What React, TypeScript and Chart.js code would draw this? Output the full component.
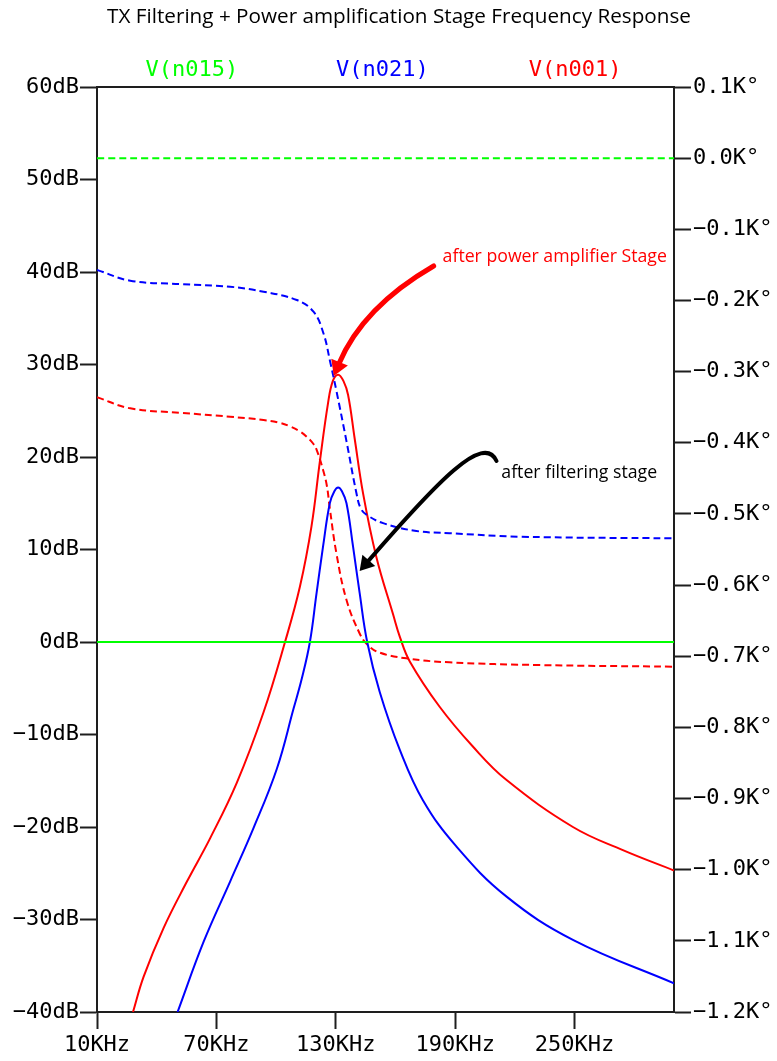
import React, { useEffect, useRef } from "react";
import { Chart, registerables } from "chart.js";

Chart.register(...registerables);

// ---------- text ----------
const chartTitle = "TX Filtering + Power amplification Stage Frequency Response";
const seriesNames = ["V(n015)", "V(n021)", "V(n001)"];
const seriesColors = ["#00ff00", "#0000ff", "#ff0000"];
const noteTexts = ["after power amplifier Stage", "after filtering stage"];
const noteColors = ["#ff0000", "#000000"];

// ---------- axes ----------
const freqMin = 10;
const freqMax = 300;
const freqTicks = [10, 70, 130, 190, 250];
const dbMin = -40;
const dbMax = 60;
const dbStep = 10;
const phaseMin = -1200;
const phaseMax = 100;
const phaseStep = 100;

// ---------- V(n015): magnitude (dB) & phase (deg) ----------
const freqN015 = [10, 300];
const magN015 = [0, 0];
const phaseN015 = [0, 0];

// ---------- V(n021): magnitude (dB) ----------
const freqN021Mag = [50.5, 63.6, 76.9, 88.7, 100.4, 108.8, 113.0, 117.0, 120.3, 123.6, 127.0, 129.3, 131.2, 133.1, 135.4, 138.7, 142.0, 145.8, 152.1, 162.1, 173.8, 190.6, 215.7, 249.2, 300];
const magN021 = [-40, -32.4, -25.9, -20.1, -13.7, -7.2, -3.9, 0.0, 5.2, 10.3, 15.0, 16.3, 16.7, 16.3, 15.0, 10.3, 5.3, 0.0, -5.4, -11.6, -17.1, -22.1, -27.5, -32.2, -36.9];

// ---------- V(n021): phase (deg) ----------
const freqN021Phase = [10, 26.7, 51.8, 76.9, 93.7, 110.4, 118.8, 123.8, 127.1, 130.4, 135.4, 140.4, 142.5, 145.4, 153.8, 170.5, 187.2, 222.4, 300];
const phaseN021 = [-157, -172.2, -176.9, -180.7, -187.7, -199.4, -215.8, -246, -285, -328, -398, -471, -492, -501, -513, -524, -527, -532, -534.3];

// ---------- V(n001): magnitude (dB) ----------
const freqN001Mag = [28.1, 33.4, 43.5, 55.2, 66.9, 80.3, 93.7, 104.5, 112.0, 117.8, 122.0, 126.1, 128.5, 131.2, 133.9, 136.2, 139.5, 143.7, 150.4, 158.8, 162.3, 167.2, 182.2, 198.9, 215.7, 249.2, 274.3, 300];
const magN001 = [-40, -36.2, -30.9, -25.9, -21.2, -15.2, -7.6, 0.0, 6.0, 12.5, 19.5, 25.8, 28.2, 28.9, 28.2, 26.7, 22.0, 16.1, 9.2, 3.0, 0.5, -2.1, -7.0, -11.3, -14.9, -20.0, -22.5, -24.7];

// ---------- V(n001): phase (deg) ----------
const freqN001Phase = [10, 26.7, 51.8, 76.9, 93.7, 102, 107, 112, 115.4, 118.6, 120.4, 123.6, 125.5, 127.0, 130.3, 135.4, 142.0, 146, 152.1, 165.5, 187.2, 232.4, 300];
const phaseN001 = [-336, -351.6, -357.8, -363.4, -368, -372, -377, -384, -391.5, -401, -410, -438, -460, -492, -555, -621, -668, -684, -695, -703, -708.6, -712.4, -714.7];

// ---------- annotations, in data units (KHz, dB) ----------
const noteAnchors = [
  [183.7, 41.6],
  [213.2, 18.3],
];
// red arrow: start, control, tip
const redArrowPath = [
  [179.2, 40.65],
  [143.5, 36.2],
  [129.0, 28.76],
];
// black arrow: start, control1, control2, tip
const blackArrowPath = [
  [210.8, 19.57],
  [204.3, 22.6],
  [181.7, 17.51],
  [142.0, 7.68],
];

const AXIS_COLOR = "#1e1e1e";
const MONO = "'DejaVu Sans Mono', monospace";
const SANS = "'Open Sans', sans-serif";

const minus = (s: string) => s.replace("-", "\u2212");

const pts = (xs: number[], ys: number[]) => xs.map((x, i) => ({ x, y: ys[i] }));

function line(label: string, xs: number[], ys: number[], color: string, axis: string, dashed: boolean) {
  return {
    label,
    data: pts(xs, ys),
    borderColor: color,
    backgroundColor: color,
    borderWidth: 2,
    borderDash: dashed ? [7, 4] : [],
    pointRadius: 0,
    pointHoverRadius: 0,
    fill: false,
    tension: 0.4,
    yAxisID: axis,
  };
}

function drawArrow(
  ctx: CanvasRenderingContext2D,
  p: { x: number; y: number }[],
  lw: number,
  headLen: number,
  headW: number,
  color: string
) {
  const tip = p[p.length - 1];
  const prev = p[p.length - 2];
  let dx = tip.x - prev.x;
  let dy = tip.y - prev.y;
  const L = Math.hypot(dx, dy) || 1;
  dx /= L;
  dy /= L;
  const base = { x: tip.x - dx * headLen, y: tip.y - dy * headLen };
  ctx.beginPath();
  ctx.moveTo(p[0].x, p[0].y);
  if (p.length === 3) ctx.quadraticCurveTo(p[1].x, p[1].y, base.x + dx * 2, base.y + dy * 2);
  else ctx.bezierCurveTo(p[1].x, p[1].y, p[2].x, p[2].y, base.x + dx * 2, base.y + dy * 2);
  ctx.lineWidth = lw;
  ctx.strokeStyle = color;
  ctx.lineCap = "round";
  ctx.setLineDash([]);
  ctx.stroke();
  ctx.beginPath();
  ctx.moveTo(tip.x, tip.y);
  ctx.lineTo(base.x - (dy * headW) / 2, base.y + (dx * headW) / 2);
  ctx.lineTo(base.x + (dy * headW) / 2, base.y - (dx * headW) / 2);
  ctx.closePath();
  ctx.fillStyle = color;
  ctx.fill();
}

const decorPlugin = {
  id: "decor",
  afterDraw(chart: any) {
    const { ctx, chartArea: a, scales } = chart;
    const sx = scales.x;
    const sy = scales.y;
    const toPx = (v: number[]) => ({ x: sx.getPixelForValue(v[0]), y: sy.getPixelForValue(v[1]) });
    ctx.save();
    // top border of the plot box
    ctx.strokeStyle = AXIS_COLOR;
    ctx.lineWidth = 2;
    ctx.beginPath();
    ctx.moveTo(a.left - 1, a.top);
    ctx.lineTo(a.right + 1, a.top);
    ctx.stroke();

    // title
    ctx.fillStyle = "#000";
    ctx.font = `20.7px ${SANS}`;
    ctx.textAlign = "center";
    ctx.textBaseline = "middle";
    ctx.fillText(chartTitle, 399, 17);

    // legend (trace names)
    const legendFrac = [0.1646, 0.4944, 0.8285];
    ctx.font = `22px ${MONO}`;
    seriesNames.forEach((n, i) => {
      ctx.fillStyle = seriesColors[i];
      ctx.fillText(n, a.left + legendFrac[i] * (a.right - a.left), 70);
    });

    // annotations
    ctx.font = `17.7px ${SANS}`;
    ctx.textAlign = "left";
    noteTexts.forEach((t, i) => {
      const p = toPx(noteAnchors[i]);
      ctx.fillStyle = noteColors[i];
      ctx.fillText(t, p.x, p.y);
    });
    drawArrow(ctx, redArrowPath.map(toPx), 5, 15, 18, noteColors[0]);
    drawArrow(ctx, blackArrowPath.map(toPx), 4, 14, 17, noteColors[1]);
    ctx.restore();
  },
};

export default function App() {
  const ref = useRef<HTMLCanvasElement>(null);
  useEffect(() => {
    if (!ref.current) return;
    const tickFont = { family: MONO, size: 22 };
    const gridOpts = {
      drawOnChartArea: false,
      drawTicks: true,
      tickLength: 17,
      tickWidth: 2,
      tickColor: AXIS_COLOR,
    };
    const borderOpts = { display: true, color: AXIS_COLOR, width: 2 };
    const chart = new Chart(ref.current, {
      type: "line",
      data: {
        datasets: [
          line("V(n015) mag", freqN015, magN015, seriesColors[0], "y", false),
          line("V(n015) phase", freqN015, phaseN015, seriesColors[0], "y1", true),
          line("V(n021) mag", freqN021Mag, magN021, seriesColors[1], "y", false),
          line("V(n021) phase", freqN021Phase, phaseN021, seriesColors[1], "y1", true),
          line("V(n001) mag", freqN001Mag, magN001, seriesColors[2], "y", false),
          line("V(n001) phase", freqN001Phase, phaseN001, seriesColors[2], "y1", true),
        ],
      },
      options: {
        responsive: false,
        animation: false,
        layout: { padding: { top: 87, left: 0, right: 0, bottom: 0 } },
        plugins: {
          legend: { display: false },
          title: { display: false },
          tooltip: { enabled: false },
        },
        scales: {
          x: {
            type: "linear",
            min: freqMin,
            max: freqMax,
            afterBuildTicks: (s: any) => {
              s.ticks = freqTicks.map((v) => ({ value: v }));
            },
            afterFit: (s: any) => {
              s.height = 49;
            },
            ticks: {
              callback: (v: any) => `${v}KHz`,
              font: tickFont,
              color: "#000",
              padding: 3,
              maxRotation: 0,
              autoSkip: false,
            },
            grid: gridOpts,
            border: borderOpts,
          },
          y: {
            type: "linear",
            position: "left",
            min: dbMin,
            max: dbMax,
            afterFit: (s: any) => {
              s.width = 97;
            },
            ticks: {
              stepSize: dbStep,
              callback: (v: any) => minus(`${v}dB`),
              font: tickFont,
              color: "#000",
              padding: 1,
            },
            grid: gridOpts,
            border: borderOpts,
          },
          y1: {
            type: "linear",
            position: "right",
            min: phaseMin,
            max: phaseMax,
            afterFit: (s: any) => {
              s.width = 103;
            },
            ticks: {
              stepSize: phaseStep,
              callback: (v: any) => minus(`${(Number(v) / 1000).toFixed(1)}K\u00b0`),
              font: tickFont,
              color: "#000",
              padding: 2,
            },
            grid: gridOpts,
            border: borderOpts,
          },
        },
      },
      plugins: [decorPlugin],
    } as any);
    return () => chart.destroy();
  }, []);
  return (
    <div style={{ position: "absolute", left: 0, top: 0, width: 777, height: 1061, background: "#fff" }}>
      <canvas ref={ref} width={777} height={1061} style={{ display: "block", width: 777, height: 1061 }} />
    </div>
  );
}
